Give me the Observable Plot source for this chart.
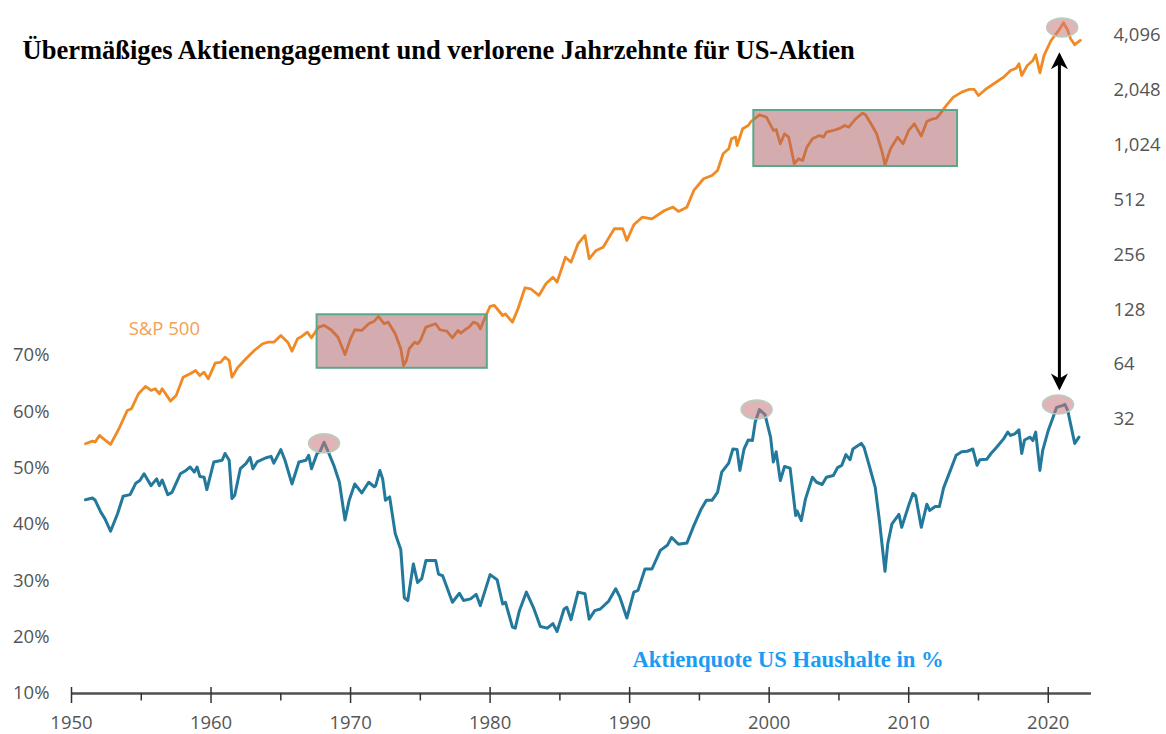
<!DOCTYPE html>
<html><head><meta charset="utf-8">
<script src="https://cdn.jsdelivr.net/npm/d3@7"></script>
<script src="https://cdn.jsdelivr.net/npm/@observablehq/plot@0.6"></script>
<style>
body{margin:0;background:#fff}
#chart{position:relative;width:1166px;height:734px}
</style>
</head><body><div id="chart"></div>
<script>
// ---------- data ----------
const titleText = "Übermäßiges Aktienengagement und verlorene Jahrzehnte für US-Aktien";
const spLabel = "S&P 500";
const quoteLabel = "Aktienquote US Haushalte in %";

const quoteYears = [1951.0,1951.5,1951.7,1952.1,1952.4,1952.8,1953.3,1953.7,1954.2,1954.6,1954.9,1955.2,1955.7,1956.1,1956.3,1956.5,1956.9,1957.2,1957.8,1958.2,1958.5,1958.8,1959.0,1959.2,1959.5,1959.7,1960.2,1960.8,1961.0,1961.3,1961.5,1961.7,1962.1,1962.5,1962.8,1963.0,1963.3,1963.9,1964.3,1964.5,1965.0,1965.3,1965.8,1966.3,1966.8,1967.0,1967.2,1967.6,1967.8,1968.1,1968.4,1968.8,1969.2,1969.6,1969.9,1970.3,1970.8,1971.3,1971.7,1971.8,1972.1,1972.3,1972.5,1972.8,1973.2,1973.6,1973.85,1974.1,1974.5,1974.8,1975.1,1975.4,1976.1,1976.3,1976.6,1977.3,1977.8,1978.1,1978.6,1979.0,1979.3,1980.0,1980.5,1980.9,1981.1,1981.6,1981.8,1982.1,1982.6,1983.1,1983.6,1984.1,1984.5,1984.8,1985.3,1985.5,1985.8,1986.3,1986.8,1987.1,1987.5,1987.9,1988.5,1989.0,1989.3,1989.8,1990.3,1990.6,1991.1,1991.6,1992.2,1992.7,1993.0,1993.5,1994.1,1994.6,1995.1,1995.5,1995.9,1996.3,1996.6,1997.1,1997.4,1997.7,1997.9,1998.2,1998.5,1998.8,1999.0,1999.3,1999.7,2000.1,2000.3,2000.5,2000.8,2001.1,2001.5,2001.9,2002.0,2002.3,2002.6,2003.1,2003.4,2003.8,2004.1,2004.6,2004.9,2005.2,2005.5,2005.8,2006.0,2006.6,2006.8,2007.2,2007.6,2007.9,2008.3,2008.5,2008.8,2009.3,2009.5,2010.0,2010.3,2010.5,2010.9,2011.3,2011.5,2011.9,2012.2,2012.5,2013.0,2013.4,2013.8,2014.2,2014.6,2014.9,2015.1,2015.6,2015.9,2016.3,2016.8,2017.1,2017.3,2017.6,2017.9,2018.1,2018.3,2018.7,2018.9,2019.1,2019.4,2019.6,2020.0,2020.4,2020.6,2021.0,2021.2,2021.4,2021.8,2021.9,2022.2];
const quotePct = [44.4,44.7,44.3,42.2,41.0,38.8,41.9,45.0,45.3,47.3,47.8,49.0,46.9,48.1,46.9,47.9,45.3,45.7,49.0,49.6,50.2,49.3,50.2,48.5,48.4,46.2,51.1,51.4,52.6,51.4,44.6,45.2,49.9,50.8,51.9,49.9,51.1,51.8,52.1,50.9,53.3,51.4,47.2,51.1,51.4,52.3,49.9,52.6,52.9,54.6,52.9,50.5,47.5,40.8,44.3,47.2,45.6,47.5,46.7,46.9,49.6,48.1,44.3,44.9,38.4,35.5,27.0,26.5,33.0,29.7,30.4,33.6,33.6,31.2,30.9,26.2,27.8,26.5,26.8,27.6,25.6,31.1,30.2,25.9,26.2,21.8,21.6,24.7,28.0,25.3,21.9,21.6,22.4,21.0,25.0,25.3,23.1,28.0,27.7,23.2,24.7,25.0,26.4,28.6,27.1,23.4,28.0,28.3,32.1,32.1,35.4,36.3,37.7,36.5,36.7,39.8,42.6,44.3,44.3,45.7,49.3,50.9,53.4,53.3,49.6,53.4,55.0,54.9,58.2,60.4,59.5,55.5,51.1,52.9,47.8,50.3,50.0,41.6,42.4,40.7,44.5,48.4,47.5,47.1,48.4,48.7,50.1,50.5,52.4,51.5,53.4,54.4,53.7,50.2,46.6,40.7,31.7,36.6,40.1,41.8,39.5,43.4,45.5,45.1,39.5,43.6,42.5,43.2,43.2,46.5,49.7,52.3,52.9,53.0,53.4,50.5,51.5,51.6,52.6,53.7,55.2,56.4,55.8,56.1,56.8,52.6,55.0,55.5,54.9,56.4,49.6,53.1,56.7,59.4,60.8,61.1,61.3,60.2,55.5,54.4,55.5];

const spYears = [1951.0,1951.5,1951.7,1952.0,1952.3,1952.8,1953.4,1954.0,1954.3,1954.8,1955.3,1955.7,1956.0,1956.3,1956.5,1957.1,1957.5,1958.0,1958.5,1958.9,1959.2,1959.5,1959.8,1960.3,1960.7,1961.0,1961.3,1961.5,1961.9,1962.5,1963.1,1963.7,1964.1,1964.5,1965.0,1965.5,1965.8,1966.2,1966.5,1966.9,1967.2,1967.7,1968.1,1968.6,1969.1,1969.6,1970.0,1970.3,1970.8,1971.3,1971.7,1972.0,1972.4,1972.7,1973.2,1973.6,1973.8,1974.0,1974.2,1974.6,1974.8,1975.0,1975.4,1976.1,1976.4,1976.9,1977.3,1977.7,1977.9,1978.2,1978.5,1978.8,1979.1,1979.3,1979.7,1980.0,1980.3,1980.5,1980.9,1981.1,1981.6,1982.0,1982.5,1982.9,1983.5,1984.0,1984.5,1984.8,1985.4,1985.8,1986.3,1986.8,1987.1,1987.6,1988.1,1988.9,1989.5,1989.8,1990.3,1990.9,1991.6,1992.5,1993.1,1993.5,1994.1,1994.6,1995.3,1995.9,1996.3,1996.7,1997.1,1997.3,1997.6,1997.7,1998.1,1998.5,1998.7,1999.3,1999.8,2000.3,2000.5,2000.8,2001.1,2001.4,2001.8,2002.1,2002.4,2002.7,2003.1,2003.6,2003.9,2004.1,2004.6,2005.1,2005.4,2005.7,2006.2,2006.7,2006.9,2007.3,2007.7,2008.1,2008.3,2008.7,2009.2,2009.6,2010.0,2010.4,2010.9,2011.3,2011.6,2012.0,2012.3,2012.7,2013.2,2013.8,2014.3,2014.7,2015.0,2015.5,2016.1,2016.8,2017.3,2017.7,2017.9,2018.1,2018.5,2018.9,2019.1,2019.4,2019.7,2020.2,2020.7,2021.1,2021.4,2021.6,2021.9,2022.3];
const spValues = [23.5,24.3,24.0,26.1,25.0,23.3,28.4,35.8,36.6,44.2,48.5,46.1,47.1,44.2,47.1,40.3,43.3,54.5,56.9,59.3,55.7,58.1,53.4,65.1,65.9,70.2,67.3,54.5,61.4,68.8,76.4,83.2,84.9,84.9,92.4,84.9,75.8,88.6,91.2,96.3,89.7,102.6,104.9,99.3,90.4,72.6,88.6,99.3,98.4,107.1,110.7,117.5,107.1,109.3,94.4,78.1,63.2,67.3,78.1,84.9,83.2,86.7,102.6,107.1,99.3,97.6,89.7,98.4,95.1,99.3,102.6,109.3,107.1,100.5,118.9,133.3,135.0,129.5,118.9,121.2,109.3,129.5,168.8,166.7,153.2,177.5,193.1,181.2,248.5,233.3,294.5,327,243.6,270.6,282.1,355.9,355.9,307,374.3,412,403.7,448.5,467.6,443,467.6,577.6,669.7,698,743.6,918.6,978,1110,1133,1020,1260,1313,1381,1503,1459,1233,1248,1042,1183,1133,810,862,844,998,1110,1158,1133,1207,1233,1269,1313,1286,1429,1535,1503,1342,1183,937,799,978,1133,1042,1233,1342,1148,1381,1417,1441,1542,1692,1879,2002,2071,2071,1919,2071,2226,2419,2632,2710,2866,2472,2806,2988,3211,2556,3183,3846,4312,4810,4365,3932,3645,3848];

const pctTicks = [10,20,30,40,50,60,70];
const spTicks = [32,64,128,256,512,1024,2048,4096];
const decadeTicks = [1950,1960,1970,1980,1990,2000,2010,2020];
const halfDecadeTicks = [1955,1965,1975,1985,1995,2005,2015];

// "lost decades" boxes (S&P 500 range)
const boxStart = [1967.6, 1998.9];
const boxEnd = [1979.8, 2013.5];
const boxLowSP = [61, 782];
const boxHighSP = [120, 1587];

// highlighted peaks
const peakYears = [1968.1, 1999.1, 2020.7, 2021.0];
const peakValues = [54.4, 60.4, 61.3, 4535];
const peakSeries = ["quote", "quote", "quote", "sp"];

// double arrow
const arrowYear = 2020.8;
const arrowBottomPct = 63.8;
const arrowTopSP = 3318;

// ---------- chart ----------
const PCT_MIN = 10, PCT_MAX = 126.8;
const W = 1166, H = 734, mT = 35, mB = 41, mL = 71, mR = 75;
const pxPerPct = (H - mT - mB) / (PCT_MAX - PCT_MIN);
const spToPct = v => PCT_MIN + Math.log2(v) * (PCT_MAX - PCT_MIN) / 12;
const pctToSp = p => Math.pow(2, (p - PCT_MIN) * 12 / (PCT_MAX - PCT_MIN));

const quoteData = quoteYears.map((y, i) => ({year: y, pct: quotePct[i]}));
const spData = spYears.map((y, i) => ({year: y, pct: spToPct(spValues[i])}));
const boxes = boxStart.map((s, i) => ({x1: s, x2: boxEnd[i], y1: spToPct(boxLowSP[i]), y2: spToPct(boxHighSP[i])}));
const peaks = peakYears.map((y, i) => ({year: y, pct: peakSeries[i] === "sp" ? spToPct(peakValues[i]) : peakValues[i]}));
const arrowTopPct = spToPct(arrowTopSP);

const ellipse = {draw(ctx) {
  const rx = 15.5, ry = 9.5, k = 0.5523;
  ctx.moveTo(rx, 0);
  ctx.bezierCurveTo(rx, ry * k, rx * k, ry, 0, ry);
  ctx.bezierCurveTo(-rx * k, ry, -rx, ry * k, -rx, 0);
  ctx.bezierCurveTo(-rx, -ry * k, -rx * k, -ry, 0, -ry);
  ctx.bezierCurveTo(rx * k, -ry, rx, -ry * k, rx, 0);
  ctx.closePath();
}};
const headUp = {draw(ctx) { ctx.moveTo(0, 0); ctx.lineTo(8.5, 17); ctx.lineTo(0, 12); ctx.lineTo(-8.5, 17); ctx.closePath(); }};
const headDown = {draw(ctx) { ctx.moveTo(0, 0); ctx.lineTo(8.5, -17); ctx.lineTo(0, -12); ctx.lineTo(-8.5, -17); ctx.closePath(); }};

const axisFont = "'Open Sans', sans-serif";
const fmt = d3.format(",");

const chart = Plot.plot({
  width: W, height: H,
  marginTop: mT, marginBottom: mB, marginLeft: mL, marginRight: mR,
  x: {domain: [1950, 2023.1], axis: null},
  y: {domain: [PCT_MIN, PCT_MAX], axis: null},
  style: {fontFamily: axisFont, background: "#fff", overflow: "visible"},
  marks: [
    Plot.axisY({ticks: pctTicks, tickFormat: d => d + "%", tickSize: 0, tickPadding: 22, fontSize: 18.5, fill: "#555", fontFamily: axisFont}),
    Plot.axisY({anchor: "right", ticks: spTicks.map(spToPct), tickFormat: d => fmt(Math.round(pctToSp(d))), tickSize: 0, tickPadding: 22, fontSize: 18.5, fill: "#555", fontFamily: axisFont}),
    Plot.axisX({ticks: decadeTicks, tickFormat: d => String(d), tickSize: 0, tickPadding: 22, fontSize: 18.5, fill: "#555", fontFamily: axisFont}),
    Plot.ruleY([PCT_MIN], {x1: 1950, x2: 2023.1, stroke: "#505050", strokeWidth: 2.5}),
    Plot.ruleX(decadeTicks, {x: d => d, y1: PCT_MIN + 6 / pxPerPct, y2: PCT_MIN - 10 / pxPerPct, stroke: "#333", strokeWidth: 1.5}),
    Plot.ruleX(halfDecadeTicks, {x: d => d, y1: PCT_MIN, y2: PCT_MIN - 7.5 / pxPerPct, stroke: "#333", strokeWidth: 1.5}),
    Plot.line(quoteData, {x: "year", y: "pct", stroke: "#22799c", strokeWidth: 3, strokeLinejoin: "round"}),
    Plot.line(spData, {x: "year", y: "pct", stroke: "#f08a24", strokeWidth: 2.8, strokeLinejoin: "round"}),
    Plot.rect(boxes, {x1: "x1", x2: "x2", y1: "y1", y2: "y2", fill: "#aa5a5f", fillOpacity: 0.5, stroke: "#5aa88a", strokeWidth: 2}),
    Plot.dot(peaks, {x: "year", y: "pct", symbol: ellipse, fill: "#c8787c", fillOpacity: 0.55, stroke: "#b5cfbf", strokeWidth: 1.5}),
    Plot.ruleX([arrowYear], {y1: arrowBottomPct + 10 / pxPerPct, y2: arrowTopPct - 10 / pxPerPct, stroke: "#000", strokeWidth: 3}),
    Plot.dot([{year: arrowYear, pct: arrowTopPct}], {x: "year", y: "pct", symbol: headUp, fill: "#000", stroke: "none"}),
    Plot.dot([{year: arrowYear, pct: arrowBottomPct}], {x: "year", y: "pct", symbol: headDown, fill: "#000", stroke: "none"}),
    Plot.text([spLabel], {x: 1954.1, y: 74.7, text: d => d, textAnchor: "start", fill: "#f4a052", fontSize: 18.5, fontFamily: axisFont}),
    Plot.text([quoteLabel], {x: 1990.2, y: 16.0, text: d => d, textAnchor: "start", fill: "#1a9cf4", fontSize: 22.7, fontWeight: "bold", fontFamily: "'Liberation Serif', 'Times New Roman', serif"}),
    Plot.text([titleText], {frameAnchor: "top-left", dx: 22 - mL, dy: 58 - mT, lineAnchor: "bottom", textAnchor: "start", text: d => d, fill: "#000", fontSize: 26.5, fontWeight: "bold", fontFamily: "'Liberation Serif', 'Times New Roman', serif"})
  ]
});
document.getElementById("chart").appendChild(chart);
</script>
</body></html>
